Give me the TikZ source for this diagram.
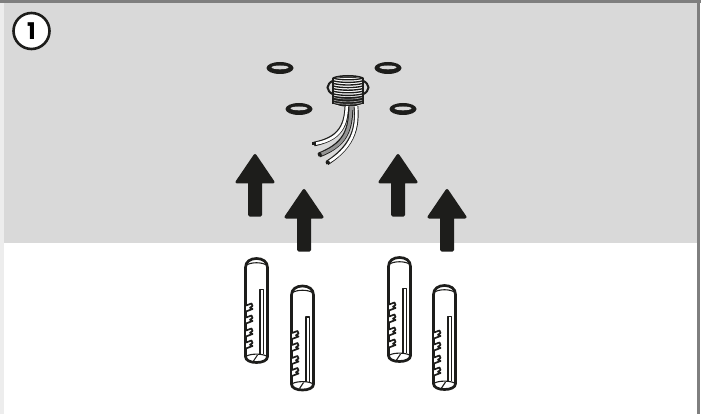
\documentclass[tikz,border=0pt]{standalone}
\usepackage{fontspec}
\setmainfont{Poppins}
\definecolor{panel}{HTML}{D9D9D9}
\definecolor{ink}{HTML}{1D1D1B}
\definecolor{frameg}{HTML}{7F7F7F}
\definecolor{strip}{HTML}{EDEDED}
\tikzset{
  arrowshape/.style={fill=ink,draw=ink,line width=3pt,line join=round},
  plugline/.style={draw=ink,line width=2.7pt,line join=round},
  thinline/.style={draw=ink,line width=1.1pt,line join=round},
  threadline/.style={draw=ink,line width=1.35pt},
  pics/upshape/.style={code={
    \draw[arrowshape] (0,1.5) -- (18,28) -- (5.5,28) -- (5.5,61) -- (-5.5,61) -- (-5.5,28) -- (-18,28) -- cycle;
  }},
  pics/plug/.style={code={
    \draw[plugline,fill=white] (0,9) .. controls (0,3) and (5,0) .. (11,0) .. controls (17,0) and (22,3) .. (22,9) -- (22,98) .. controls (22,102) and (17,104) .. (11,104) .. controls (5,104) and (0,102) .. (0,98) -- cycle;
    \draw[thinline] (1,6.5) .. controls (6,3.5) and (16,3.5) .. (21,6.5);
    \draw[thinline] (1,97.5) .. controls (6,95) and (16,95) .. (21,97.5);
    \draw[thinline] (8,102.5) -- (12,96.5);
    \draw[thinline] (14.5,95.5) -- (14.5,31) -- (18,31) -- (18,95.5);
    \foreach \y in {46,58,71,83}{
      \draw[ink,line width=1.7pt,fill=white,line join=round] (0.5,\y+1) -- (6,\y-1) -- (7,\y+1.5) -- (4.5,\y+3.2) -- (7,\y+4.5) -- (0.5,\y+7);
    }
    \draw[ink,line width=1.2pt] (22.8,50) -- (22.8,55) (22.8,62) -- (22.8,67) (22.8,74) -- (22.8,79);
  }}
}
\begin{document}
\begin{tikzpicture}[x=1pt,y=-1pt]
\useasboundingbox (0,0) rectangle (701,414);
\fill[white] (0,0) rectangle (701,414);
\fill[panel] (4,3) rectangle (697,243);
\fill[strip] (0,3) rectangle (4,414);
\fill[frameg] (0,0) rectangle (701,3);
\fill[frameg] (697,0) rectangle (699.5,414);
% step badge
\node[circle,draw=ink,fill=white,line width=2.6pt,minimum size=36pt,inner sep=0pt,font=\fontsize{23}{23}\selectfont\bfseries] (badge) at (31.5,31) {1};
% holes
\foreach \cx/\cy in {280/68,388/68,299/109,403/109}{
  \fill[ink] (\cx,\cy) ellipse (13.5 and 6);
  \fill[panel] (\cx,\cy-0.6) ellipse (8.5 and 1.9);
}
% cables
\draw[ink,line width=4.6pt] (347,98) .. controls (347,120) and (345,138) .. (314,144);
\draw[white,line width=2.6pt] (347,98) .. controls (347,120) and (345,138) .. (316,143.6);
\draw[ink,line width=5pt] (351,98) .. controls (351,125) and (350,143) .. (319,155);
\draw[gray!85,line width=3pt] (351,98) .. controls (351,125) and (350,143) .. (321,154.2);
\draw[ink,line width=4.6pt] (355,98) .. controls (359,125) and (355,145) .. (327,163);
\draw[white,line width=2.6pt] (355,98) .. controls (359,125) and (355,145) .. (329,161.8);
\fill[ink] (312,142.5) rectangle (316,145.5);
\fill[ink] (317.5,153.5) -- (321,152.6) -- (322,155.5) -- (318.5,156.5) -- cycle;
\fill[ink] (325.5,162) -- (329,160.5) -- (330,163) -- (326.5,164.5) -- cycle;
% fitting
\draw[ink,line width=2pt] (348,87.5) ellipse (20.5 and 10);
\fill[white] (333,78) -- (363,78) -- (363,104) .. controls (355,108) and (341,108) .. (333,104) -- cycle;
\foreach \y in {78,80.6,83.2,85.8,88.4,91,93.6,96,98.4,100.8,103}{
  \draw[threadline] (332.5,\y) .. controls (340,\y+2.4) and (356,\y+2.4) .. (363.5,\y);
}
\draw[ink,line width=1.5pt] (333,78) .. controls (340,75) and (356,75) .. (363,78);
\draw[ink,line width=1.4pt] (333,78) -- (333,104) (363,78) -- (363,104);
\fill[ink] (333,97) -- (363,97) -- (363,103) .. controls (355,108) and (341,108) .. (333,103) -- cycle;
\foreach \y in {97.5,100.2,102.6}{
  \draw[gray!60,line width=0.6pt] (334,\y) .. controls (341,\y+2.2) and (355,\y+2.2) .. (362,\y);
}
\draw[white,line width=2.4pt] (347,106.5) -- (347,110);
\draw[gray!85,line width=3pt] (351,106.5) -- (351,110);
\draw[white,line width=2.4pt] (356,106.5) -- (356.4,110);
% arrows
\path (255,154) pic {upshape};
\path (304,189) pic {upshape};
\path (398,154) pic {upshape};
\path (447,189) pic {upshape};
% plugs
\path (245.5,258.5) pic {plug};
\path (291.5,286) pic {plug};
\path (388.5,257.5) pic {plug};
\path (433.5,285.5) pic {plug};
\end{tikzpicture}
\end{document}
